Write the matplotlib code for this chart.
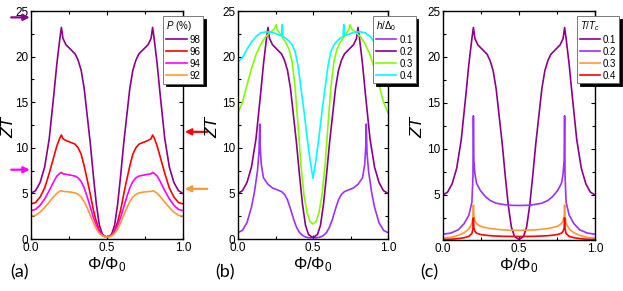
import numpy as np
import matplotlib.pyplot as plt

# colores
purple = '#8B008B'
red = '#FF0000'
magenta = '#FF00FF'
orange = '#FF9933'
violet = '#9B30FF'
green = '#80FF00'
cyan = '#00FFFF'

# datos (media curva, de 0 a 0.5; la otra mitad es simetrica)
# panel (a): distintas polarizaciones P
phi_a = [0, 0.03, 0.06, 0.09, 0.12, 0.15, 0.17, 0.19, 0.2, 0.21, 0.23, 0.26,
         0.29, 0.31, 0.33, 0.35, 0.37, 0.39, 0.41, 0.43, 0.45, 0.47, 0.49, 0.5]
zt_p98 = [5.0, 5.3, 6.2, 7.9, 11.0, 15.8, 19.2, 22.0, 23.2, 22.0, 21.3, 20.8,
          20.3, 19.6, 18.5, 16.5, 13.5, 10.5, 7.0, 3.8, 1.5, 0.5, 0.25, 0.2]
zt_p96 = [3.85, 4.0, 4.6, 5.6, 7.2, 9.0, 10.2, 11.1, 11.4, 11.0, 10.8, 10.6,
          10.4, 10.0, 9.3, 8.0, 6.5, 4.9, 3.2, 1.9, 0.9, 0.45, 0.25, 0.2]
zt_p94 = [3.1, 3.25, 3.7, 4.4, 5.3, 6.3, 6.9, 7.2, 7.3, 7.15, 7.1, 7.0,
          6.9, 6.7, 6.3, 5.6, 4.6, 3.5, 2.4, 1.5, 0.8, 0.4, 0.25, 0.2]
zt_p92 = [2.5, 2.6, 2.95, 3.45, 4.05, 4.65, 5.0, 5.25, 5.3, 5.22, 5.2, 5.15,
          5.05, 4.9, 4.6, 4.1, 3.4, 2.6, 1.8, 1.1, 0.6, 0.35, 0.22, 0.2]
labels_a = ['98', '96', '94', '92']
arrows_a = [24.3, 11.75, 7.6, 5.5]

# panel (b): distintos campos h
phi_h01 = [0, 0.03, 0.06, 0.09, 0.11, 0.13, 0.14, 0.145, 0.147, 0.155, 0.17,
           0.2, 0.23, 0.26, 0.29, 0.31, 0.33, 0.35, 0.37, 0.39, 0.41, 0.43,
           0.45, 0.47, 0.5]
zt_h01 = [0.7, 0.95, 1.8, 3.5, 5.2, 7.5, 9.5, 12.6, 10.5, 8.2, 6.7, 6.0, 5.6,
          5.4, 5.2, 4.9, 4.3, 3.3, 2.2, 1.3, 0.7, 0.4, 0.22, 0.15, 0.12]
phi_h03 = [0, 0.03, 0.06, 0.09, 0.12, 0.15, 0.18, 0.21, 0.24, 0.255, 0.26,
           0.28, 0.3, 0.32, 0.34, 0.36, 0.38, 0.4, 0.42, 0.44, 0.46, 0.48, 0.5]
zt_h03 = [13.85, 15.0, 16.9, 18.7, 20.2, 21.3, 22.1, 22.6, 23.0, 23.5, 23.0,
          22.5, 22.0, 21.5, 20.8, 19.5, 16.8, 12.5, 8.0, 4.8, 2.9, 1.9, 1.65]
phi_h04 = [0, 0.03, 0.06, 0.09, 0.12, 0.15, 0.18, 0.21, 0.24, 0.27, 0.29,
           0.295, 0.3, 0.32, 0.34, 0.36, 0.38, 0.4, 0.42, 0.44, 0.46, 0.48, 0.5]
zt_h04 = [19.4, 19.9, 20.8, 21.6, 22.2, 22.6, 22.7, 22.7, 22.6, 22.4, 22.3,
          23.5, 22.2, 22.0, 21.7, 21.3, 20.6, 19.0, 16.5, 14.0, 11.2, 8.7, 6.65]
labels_b = ['0.1', '0.2', '0.3', '0.4']

# panel (c): distintas temperaturas T
phi_t02 = [0, 0.05, 0.1, 0.14, 0.17, 0.19, 0.197, 0.2, 0.203, 0.21, 0.22,
           0.245, 0.28, 0.31, 0.35, 0.4, 0.45, 0.5]
zt_t02 = [0.73, 0.85, 1.2, 1.9, 2.8, 4.2, 7.0, 13.6, 8.8, 7.3, 6.3, 5.5, 4.8,
          4.4, 4.1, 3.95, 3.87, 3.85]
zt_t03 = [0.3, 0.38, 0.6, 0.9, 1.3, 1.9, 2.6, 3.9, 2.7, 2.2, 1.9, 1.6, 1.45,
          1.35, 1.27, 1.2, 1.17, 1.15]
zt_t04 = [0.15, 0.18, 0.25, 0.35, 0.5, 0.8, 1.3, 2.5, 1.4, 1.05, 0.85, 0.7,
          0.62, 0.57, 0.53, 0.5, 0.49, 0.48]
labels_c = ['0.1', '0.2', '0.3', '0.4']


def mirror(x, y):
    x = np.array(x)
    y = np.array(y)
    return np.concatenate([x, 1 - x[-2::-1]]), np.concatenate([y, y[-2::-1]])


def style_axes(ax, ylab_x):
    ax.set_xlim(0, 1)
    ax.set_xticks([0, 0.5, 1.0])
    ax.set_xticks([0.25, 0.75], minor=True)
    ax.set_xticklabels(['0.0', '0.5', '1.0'])
    ax.tick_params(which='both', direction='in', top=True, right=True,
                   labelsize=8.5, width=0.8, pad=2)
    ax.tick_params(which='major', length=3)
    ax.tick_params(which='minor', length=2)
    ax.set_xlabel(r'$\Phi/\Phi_0$', fontsize=12, labelpad=1)
    ax.set_ylabel('ZT', fontsize=12.5, style='italic')
    ax.yaxis.set_label_coords(ylab_x, 0.49)
    for s in ax.spines.values():
        s.set_linewidth(1.0)


def add_legend(ax, title, x0):
    leg = ax.legend(title=title, loc='upper left', bbox_to_anchor=(x0, 0.978),
                    borderaxespad=0, fontsize=7, title_fontsize=7,
                    handlelength=2.1, handletextpad=0.3, labelspacing=0.2,
                    borderpad=0.3, fancybox=False, edgecolor='#666666',
                    framealpha=1, shadow={'color': 'black', 'alpha': 1},
                    alignment='left')
    leg.get_frame().set_linewidth(0.6)
    leg.set_zorder(5)


plt.rcParams['font.family'] = ['Liberation Sans', 'DejaVu Sans']
plt.rcParams['mathtext.fontset'] = 'custom'
plt.rcParams['mathtext.rm'] = 'Liberation Sans'
plt.rcParams['mathtext.it'] = 'Liberation Sans:italic'

fig = plt.figure(figsize=(6.23, 2.91), dpi=100)
ax_a = fig.add_axes([31 / 623, 52 / 291, 152 / 623, 228 / 291])
ax_b = fig.add_axes([238 / 623, 52 / 291, 150 / 623, 228 / 291])
ax_c = fig.add_axes([443 / 623, 51 / 291, 152 / 623, 229 / 291])

# (a)
for zt, col, lab in zip([zt_p98, zt_p96, zt_p94, zt_p92],
                        [purple, red, magenta, orange], labels_a):
    x, y = mirror(phi_a, zt)
    ax_a.plot(x, y, color=col, lw=1.2, label=lab)
style_axes(ax_a, -0.095)
ax_a.set_ylim(0, 25)
ax_a.set_yticks([0, 5, 10, 15, 20, 25])
ax_a.set_yticks([2.5, 7.5, 12.5, 17.5, 22.5], minor=True)
add_legend(ax_a, '$P$ (%)', 0.87)

# flechas
for val, col, side in zip(arrows_a, [purple, red, magenta, orange],
                          ['l', 'r', 'l', 'r']):
    if side == 'l':
        xy, xytext = (-0.008, val), (-0.13, val)
    else:
        xy, xytext = (1.012, val), (1.16, val)
    ax_a.annotate('', xy=xy, xytext=xytext,
                  xycoords=('axes fraction', 'data'),
                  textcoords=('axes fraction', 'data'),
                  arrowprops=dict(arrowstyle='-|>', color=col, lw=1.6,
                                  mutation_scale=9, shrinkA=0, shrinkB=0),
                  annotation_clip=False)

# (b)
x, y = mirror(phi_h01, zt_h01)
ax_b.plot(x, y, color=violet, lw=1.2, label=labels_b[0])
x, y = mirror(phi_a, zt_p98)
ax_b.plot(x, y, color=purple, lw=1.2, label=labels_b[1])
x, y = mirror(phi_h03, zt_h03)
ax_b.plot(x, y, color=green, lw=1.2, label=labels_b[2])
x, y = mirror(phi_h04, zt_h04)
ax_b.plot(x, y, color=cyan, lw=1.2, label=labels_b[3])
style_axes(ax_b, -0.12)
ax_b.set_ylim(0, 25)
ax_b.set_yticks([0, 5, 10, 15, 20, 25])
ax_b.set_yticks([2.5, 7.5, 12.5, 17.5, 22.5], minor=True)
add_legend(ax_b, r'$h/\Delta_0$', 0.9)

# (c)
x, y = mirror(phi_a, zt_p98)
ax_c.plot(x, y, color=purple, lw=1.2, label=labels_c[0])
for zt, col, lab in zip([zt_t02, zt_t03, zt_t04], [violet, orange, red],
                        labels_c[1:]):
    x, y = mirror(phi_t02, zt)
    ax_c.plot(x, y, color=col, lw=1.2, label=lab)
style_axes(ax_c, -0.118)
ax_c.set_ylim(0.1, 25)
ax_c.set_yticks([5, 10, 15, 20, 25])
ax_c.set_yticks([2.5, 7.5, 12.5, 17.5, 22.5], minor=True)
add_legend(ax_c, r'$T/T_c$', 0.88)

# etiquetas de panel
fig.text(10 / 623, 1 - 272 / 291, '(a)', fontsize=13, va='center',
         family='Lato')
fig.text(215 / 623, 1 - 272 / 291, '(b)', fontsize=13, va='center',
         family='Lato')
fig.text(420 / 623, 1 - 272 / 291, '(c)', fontsize=13, va='center',
         family='Lato')

fig.savefig('out.png', dpi=100)
